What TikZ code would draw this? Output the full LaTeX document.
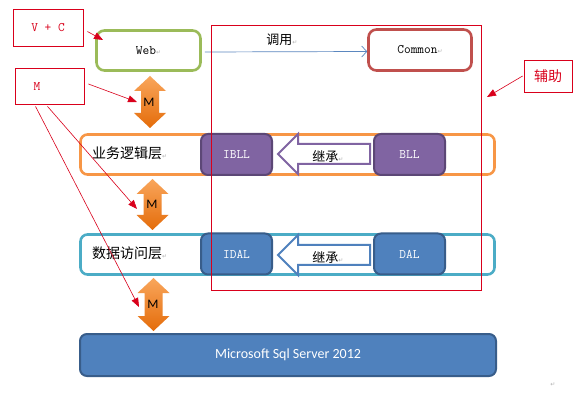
\documentclass[tikz,border=0pt]{standalone}
\usepackage{fontspec}
\newfontfamily\cjkf{Noto Sans CJK SC}
\newfontfamily\carl{Carlito}
\newfontfamily\djv{DejaVu Sans}
\usetikzlibrary{arrows.meta}
\definecolor{annred}{HTML}{D9001B}
\definecolor{webgreen}{HTML}{9BBB59}
\definecolor{comred}{HTML}{C0504D}
\definecolor{layorange}{HTML}{F79646}
\definecolor{layteal}{HTML}{4BACC6}
\definecolor{purfill}{HTML}{8064A2}
\definecolor{purline}{HTML}{5C4776}
\definecolor{bluefill}{HTML}{4F81BD}
\definecolor{blueline}{HTML}{385D8A}
\definecolor{callblue}{HTML}{5B87BF}
\definecolor{orangetop}{HTML}{F9A65C}
\definecolor{orangebot}{HTML}{E46C0A}
\newcommand\retmark{{\djv\fontsize{6}{6}\selectfont\textcolor{gray!60}{↵}}}
\newcommand\dblarr[3]{%
  \shade[top color=orangetop,bottom color=orangebot]
    (#1,#2) -- (#1+16,#2+15) -- (#1+9,#2+15) -- (#1+9,#3-15) -- (#1+16,#3-15)
    -- (#1,#3) -- (#1-16,#3-15) -- (#1-9,#3-15) -- (#1-9,#2+15) -- (#1-16,#2+15) -- cycle;}
\begin{document}
\begin{tikzpicture}[x=1pt,y=-1pt,
  annot/.style={draw=annred, line width=0.8pt, inner sep=0pt, text=annred},
  monofont/.style={font=\ttfamily\fontsize{13}{15}\selectfont},
  layerbox/.style={rounded corners=7pt, line width=2.6pt, fill=white, inner sep=0pt},
  comp/.style={rounded corners=7pt, line width=2pt, inner sep=0pt, text=white,
    monofont, minimum width=71pt, minimum height=41pt},
  redarrow/.style={draw=annred, line width=0.6pt, -{Triangle[length=9pt,width=7pt,fill=annred]}},
  cjklabel/.style={font=\cjkf\fontsize{13}{15}\selectfont, inner sep=0pt},
  mlabel/.style={font=\carl\fontsize{13}{15}\selectfont, inner sep=0pt},
  inherit/.style={line width=2pt, fill=white, line join=miter}
]
\useasboundingbox[fill=white] (0,0) rectangle (586,403);

% layer rows
\node[layerbox, draw=layorange, minimum width=414pt, minimum height=40pt] (bizrow) at (287.5,154.5) {};
\node[layerbox, draw=layteal, minimum width=414pt, minimum height=40pt] (darow) at (287.5,254.5) {};
\node[cjklabel, font=\cjkf\fontsize{14}{16}\selectfont, anchor=west] (bizlabel) at (92,153) {业务逻辑层\retmark};
\node[cjklabel, font=\cjkf\fontsize{14}{16}\selectfont, anchor=west] (dalabel) at (92,253) {数据访问层\retmark};

% components
\node[comp, fill=purfill, draw=purline] (ibll) at (236.5,154.5) {IBLL};
\node[comp, fill=purfill, draw=purline] (bll) at (409.5,154.5) {BLL};
\node[comp, fill=bluefill, draw=blueline] (idal) at (236.5,254) {IDAL};
\node[comp, fill=bluefill, draw=blueline] (dal) at (409.5,254) {DAL};

% inheritance block arrows
\draw[inherit, draw=purfill] (278,154) -- (298,134) -- (298,144) -- (370,144) -- (370,164) -- (298,164) -- (298,174) -- cycle;
\node[cjklabel] (inh1) at (328,156) {继承\retmark};
\draw[inherit, draw=bluefill] (278,255) -- (298,235) -- (298,245) -- (370,245) -- (370,265) -- (298,265) -- (298,275) -- cycle;
\node[cjklabel] (inh2) at (328,257) {继承\retmark};

% web and common
\node[rounded corners=8pt, line width=2.6pt, draw=webgreen, fill=white, minimum width=104pt, minimum height=40pt,
  monofont] (web) at (148.5,50.5) {Web\retmark};
\node[rounded corners=8pt, line width=2.6pt, draw=comred, fill=white, minimum width=103pt, minimum height=41pt,
  monofont] (common) at (420,50) {Common\retmark};
\draw[callblue, line width=0.7pt, -{Straight Barb[length=5pt,width=11pt]}] ([xshift=3pt,yshift=-1.5pt]web.east) -- ([yshift=-1.5pt]common.west);
\node[cjklabel] (call) at (282,40) {调用\retmark};

% database
\node[rounded corners=7pt, line width=2pt, draw=blueline, fill=bluefill, minimum width=416pt, minimum height=42pt,
  text=white, font=\carl\fontsize{14}{16}\selectfont] (sql) at (288,355) {Microsoft Sql Server 2012};

% helper region
\node[draw=annred, line width=0.8pt, minimum width=270pt, minimum height=265pt, inner sep=0pt] (helper) at (346,157.5) {};

% orange double arrows
\dblarr{150}{76}{128}
\node[mlabel] (m1) at (149,102) {M};
\dblarr{152.5}{179}{230}
\node[mlabel] (m2) at (152,204) {M};
\dblarr{153.5}{278}{331}
\node[mlabel] (m3) at (153,304) {M};

% annotations
\node[annot, minimum width=70pt, minimum height=37pt, monofont] (vc) at (48,27.5) {V + C};
\node[annot, minimum width=69pt, minimum height=36pt] (mbox) at (49.5,86) {};
\node[monofont, text=annred, inner sep=0pt] (mtext) at (37,87) {M};
\node[annot, minimum width=48pt, minimum height=32pt, font=\cjkf\fontsize{14}{16}\selectfont] (aux) at (548,76) {辅助};

\coordinate (vctip) at (103,40);
\coordinate (tip1) at (137,102);
\coordinate (tip2) at (137,209);
\coordinate (tip3) at (139,307);
\coordinate (auxtip) at (487,97);

\draw[redarrow] ([xshift=4pt,yshift=-4pt]vc.east) -- (vctip);
\draw[redarrow] ([xshift=4pt,yshift=2pt]mbox.east) -- (tip1);
\draw[redarrow] ([xshift=-2pt,yshift=-2pt]mbox.south) -- (tip2);
\draw[redarrow] ([xshift=-14pt,yshift=-2pt]mbox.south) -- (tip3);
\draw[redarrow] ([xshift=-1pt]aux.west) -- (auxtip);

% end mark
\node[inner sep=0pt] (endmark) at (553,385) {\retmark};
\end{tikzpicture}
\end{document}
